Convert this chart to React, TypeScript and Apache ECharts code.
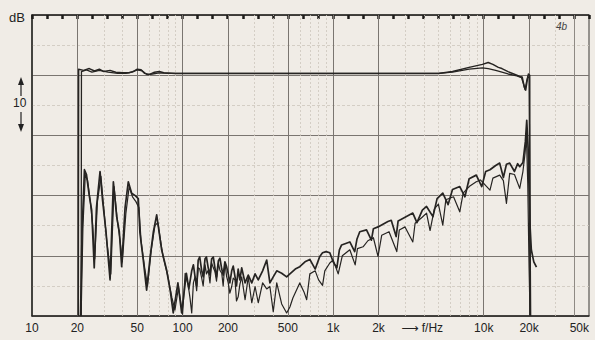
import React, { useEffect, useRef } from "react";
import * as echarts from "echarts";

// ---- Data -----------------------------------------------------------------
// Frequency response, two channels: [frequency Hz, level dB]
const responseA: [number, number][] = [
  [20.3, 0], [20.4, 41.0], [22, 40.8], [24, 41.1], [26, 40.7], [28, 41.0], [30, 40.6],
  [33, 40.8], [36, 40.5], [40, 40.4], [44, 40.4], [47, 40.6], [50, 41.0], [53, 40.9],
  [56, 40.3], [60, 40.1], [65, 40.5], [70, 40.6], [75, 40.4], [90, 40.3], [200, 40.3],
  [1000, 40.3], [3000, 40.3], [5000, 40.3], [6200, 40.6], [8000, 41.3], [9800, 41.8],
  [10700, 42.1], [11500, 41.8], [12500, 41.3], [13200, 41.1], [14500, 40.6], [16600, 40.0],
  [17300, 39.8], [18000, 39.7], [18600, 38.0], [19000, 37.5], [19400, 39.0], [19800, 40.2],
  [20200, 40.0], [20300, 0],
];
const responseB: [number, number][] = [
  [21.2, 0], [21.3, 40.6], [23, 40.9], [25, 40.5], [28, 40.8], [32, 40.5], [37, 40.3],
  [42, 40.3], [46, 40.5], [50, 40.9], [54, 40.7], [58, 40.1], [63, 40.2], [70, 40.4],
  [80, 40.3], [200, 40.3], [1000, 40.3], [5000, 40.3], [6200, 40.5], [8000, 41.0],
  [9800, 41.2], [10700, 41.1], [12000, 40.8], [13200, 40.5], [14500, 40.2], [16600, 39.9],
  [17800, 39.6], [18400, 38.5], [18800, 37.6], [19200, 38.8], [19600, 39.8], [20000, 39.5],
  [20500, 0],
];
// Noise / distortion traces
const noiseUpper: [number, number][] = [
  [21.0, 0], [21.5, 14], [22.3, 24.3], [23.0, 23.5], [24.0, 20], [24.9, 17.6], [25.9, 8.0],
  [26.8, 18], [28.3, 24.0], [29.4, 19.3], [31, 14], [33.0, 6.0], [34.7, 22.3], [36.5, 16.5],
  [38, 14], [39.4, 8.2], [41.5, 18], [43.6, 22.3], [45.9, 20.4], [48.5, 20.0], [50.8, 19.5],
  [52.1, 13.8], [55, 9], [57.7, 4.3], [61, 10], [64, 14], [67.3, 16.8], [72.6, 11],
  [78.4, 7.6], [83, 4], [86.7, 0.5], [93.1, 5.5], [98.6, 0.5], [106, 7.1], [110, 4.5],
  [115, 7.5], [118, 8.5], [121, 6.5], [124, 5], [127, 9.3], [130, 9.8], [134, 7.5],
  [137, 6.5], [141, 9.5], [144, 9.8], [148, 8], [152, 6.8], [156, 9.5], [160, 9.8],
  [164, 8], [168, 6.5], [173, 9.2], [177, 9.6], [182, 7.8], [186, 6.8], [191, 9.0],
  [196, 8.2], [201, 7], [206, 5.5], [212, 7.5], [217, 8.3], [223, 6.5], [228, 5.0],
  [234, 7.8], [240, 6.0], [247, 8.0], [260, 5.5], [273, 6.8], [288, 5.5], [303, 7.0],
  [318, 6.0], [340, 7.5], [362, 9.3], [380, 5.5], [400, 6.5], [422, 7.5], [455, 7.1],
  [491, 6.5], [516, 7.0], [560, 7.8], [600, 8.2], [650, 9.0], [700, 9.4], [760, 7.8],
  [815, 9.9], [850, 10.5], [897, 10.7], [950, 10.5], [1000, 9.0], [1058, 8.0], [1100, 11.0],
  [1138, 11.8], [1290, 12.3], [1390, 10.7], [1440, 12.8], [1502, 14], [1665, 14.3],
  [1795, 12.6], [1850, 14.5], [1985, 14.8], [2310, 15.7], [2430, 15.9], [2620, 13.2],
  [2700, 15.8], [2900, 16.2], [3380, 17.1], [3600, 15.5], [3910, 17.6], [4170, 18.2],
  [4600, 16.5], [4900, 19.5], [5345, 20.4], [5800, 18.5], [6200, 21], [6930, 21.5],
  [7500, 19.8], [8000, 22.8], [8920, 23.4], [9700, 21.5], [10300, 24], [11000, 24.3],
  [12000, 25.0], [12760, 25.4], [13500, 23.0], [14150, 25.2], [14870, 25.4], [16000, 24.0],
  [16800, 25.3], [17330, 24.8], [18200, 25.5], [18900, 29], [19300, 32.5], [19700, 28],
  [20200, 16], [20700, 11], [21500, 9], [22400, 8.1],
];
const noiseLower: [number, number][] = [
  [21.2, 0], [21.8, 15], [22.6, 23.5], [23.4, 22.5], [24.4, 19], [25.3, 15], [26.1, 9.5],
  [27.2, 19], [28.7, 23.2], [29.8, 18.5], [31.5, 12], [33.4, 7.0], [35.1, 21.5], [37, 15.5],
  [38.5, 12.5], [39.8, 9.0], [42, 17], [44.2, 21.5], [46.5, 19.8], [49, 19.0], [51.3, 18.0],
  [53, 12.5], [56, 8], [58.5, 5.0], [62, 11], [65.5, 15], [68.5, 15.5], [74, 10],
  [80, 6.5], [85, 3], [89, 1.0], [94, 4.8], [100, 0.3], [104, 7.1], [109, 5.1], [112, 3],
  [115, 0.5], [118, 5.5], [121, 6.5], [124, 4.2], [127, 8.0], [130, 7.8], [134, 6.3],
  [137, 5.0], [141, 8.5], [144, 7.0], [148, 7.6], [152, 5.5], [156, 8.8], [160, 8.0],
  [164, 7.4], [168, 5.8], [173, 8.8], [177, 7.6], [182, 7.1], [186, 5.0], [191, 8.8],
  [196, 6.6], [201, 5.5], [206, 3.8], [212, 4.9], [217, 6.3], [223, 6.0], [228, 2.5],
  [234, 3.2], [240, 5.2], [247, 6.5], [260, 2.7], [273, 6.5], [288, 2.2], [303, 4.9],
  [318, 2.2], [340, 5.5], [362, 4.5], [380, 4.9], [400, 0.7], [422, 5.5], [455, 2],
  [491, 0.5], [516, 1.5], [540, 3], [600, 5.5], [640, 4], [667, 2.7], [700, 7.0],
  [760, 7.5], [800, 6.0], [850, 5.1], [880, 7.5], [950, 8.8], [1000, 9.3], [1080, 7.0],
  [1150, 10], [1290, 11], [1400, 8.5], [1450, 11.2], [1580, 11.5], [1700, 12.5], [1850, 13],
  [1985, 9.9], [2100, 13.4], [2350, 14], [2645, 10.7], [2750, 14.3], [3000, 14.8],
  [3380, 12.3], [3500, 15.4], [3900, 16.4], [4170, 17.1], [4400, 14.2], [4700, 17.8],
  [5000, 18.6], [5345, 15.1], [5600, 19.3], [6300, 19.8], [6930, 17.3], [7300, 20.4],
  [8000, 21.5], [8920, 22.3], [9500, 22.6], [11000, 20.9], [11500, 22.9], [12760, 23.4],
  [13500, 22.5], [14150, 18.7], [14870, 23.7], [16000, 23.5], [17330, 21.2], [18200, 24],
  [18800, 27], [19200, 30], [19600, 22], [20000, 8], [20300, 0],
];

// Axis / grid definitions
const freqLabelValues = [10, 20, 50, 100, 200, 500, 1000, 2000, 3900, 10000, 20000, 50000];
const freqLabelTexts = ["10", "20", "50", "100", "200", "500", "1k", "2k", "\u27F6 f/Hz", "10k", "20k", "50k"];
const majorFreqLines = [20, 50, 100, 200, 500, 1000, 2000, 10000, 20000];
const mediumFreqLines = [40000];
const minorFreqLines = [
  30, 40, 60, 70, 80, 90, 300, 400, 600, 700, 800, 900, 3000, 4000, 5000, 6000, 7000,
  8000, 9000, 30000,
];
const fMin = 10;
const fMax = 50000;
const dbMin = 0;
const dbMax = 50;
const dbStep = 10;
const topTickCount = 37;

const PAPER = "#f0ece6";
const INK = "#262422";

export default function App() {
  const ref = useRef<HTMLDivElement>(null);

  useEffect(() => {
    if (!ref.current) return;
    const chart = echarts.init(ref.current, undefined, { renderer: "svg" });
    const font = "Liberation Sans, DejaVu Sans, sans-serif";
    const logMin = Math.log10(fMin);
    const logMax = Math.log10(fMax);

    const markLineData = [
      ...minorFreqLines.map((f) => ({
        xAxis: f,
        lineStyle: { color: "#cdc6bd", width: 0.8, type: [2, 2] as any },
      })),
      ...mediumFreqLines.map((f) => ({
        xAxis: f,
        lineStyle: { color: "#8f8a84", width: 1, type: "solid" as any },
      })),
      ...majorFreqLines.map((f) => ({
        xAxis: f,
        lineStyle: { color: "#7a7570", width: 1, type: "solid" as any },
      })),
    ];

    const curve = (name: string, data: [number, number][], width: number) => ({
      name,
      type: "line",
      data,
      showSymbol: false,
      symbol: "none",
      xAxisIndex: 0,
      yAxisIndex: 0,
      z: 5,
      lineStyle: { color: INK, width, join: "round" },
    });

    chart.setOption({
      animation: false,
      backgroundColor: PAPER,
      grid: {
        left: 32,
        right: 6,
        top: 15,
        bottom: 24,
        show: true,
        borderColor: "#3a3835",
        borderWidth: 1,
      },
      xAxis: [
        {
          type: "log",
          logBase: 10,
          min: fMin,
          max: fMax,
          position: "bottom",
          axisLine: { show: true, lineStyle: { color: "#2a2826", width: 1.5 } },
          axisTick: { show: false },
          axisLabel: { show: false },
          splitLine: { show: false },
          minorSplitLine: { show: false },
        },
        {
          type: "value",
          min: logMin,
          max: logMax,
          position: "bottom",
          axisLine: { show: false },
          axisTick: { show: false },
          splitLine: { show: false },
          axisLabel: {
            show: true,
            customValues: freqLabelValues.map((f) => Math.log10(f)),
            formatter: (v: number) => {
              let best = 0;
              let bestD = Infinity;
              freqLabelValues.forEach((f, i) => {
                const d = Math.abs(Math.log10(f) - v);
                if (d < bestD) {
                  bestD = d;
                  best = i;
                }
              });
              return freqLabelTexts[best];
            },
            color: "#222",
            fontFamily: font,
            fontSize: 12,
            margin: 6,
            alignMaxLabel: "right",
          },
        },
        {
          type: "value",
          min: 0,
          max: topTickCount,
          interval: 1,
          position: "top",
          axisLine: { show: true, lineStyle: { color: "#2a2826", width: 1.5 } },
          axisTick: { show: true, inside: true, length: 4, lineStyle: { color: "#1e1c1a", width: 2.5 } },
          axisLabel: { show: false },
          splitLine: { show: false },
        },
      ],
      yAxis: [
        {
          type: "value",
          min: dbMin,
          max: dbMax,
          interval: dbStep,
          axisLine: { show: true, lineStyle: { color: "#2a2826", width: 1.5 } },
          axisTick: { show: false },
          axisLabel: { show: false },
          splitLine: { show: true, lineStyle: { color: "#7a7570", width: 1 } },
          minorTick: { show: false, splitNumber: 2 },
          minorSplitLine: { show: true, lineStyle: { color: "#cdc6bd", width: 0.8, type: [3, 2] } },
        },
      ],
      graphic: [
        { type: "text", left: 9, top: 11, style: { text: "dB", font: `13px ${font}`, fill: "#222" } },
        { type: "line", shape: { x1: 21, y1: 82, x2: 21, y2: 96 }, style: { stroke: "#222", lineWidth: 1.2 } },
        { type: "polygon", shape: { points: [[18, 85], [21, 77], [24, 85]] }, style: { fill: "#222" } },
        { type: "text", left: 13, top: 97, style: { text: "10", font: `12px ${font}`, fill: "#222" } },
        { type: "line", shape: { x1: 21, y1: 112, x2: 21, y2: 127 }, style: { stroke: "#222", lineWidth: 1.2 } },
        { type: "polygon", shape: { points: [[18, 124], [21, 132], [24, 124]] }, style: { fill: "#222" } },
        { type: "text", left: 556, top: 21, style: { text: "4b", font: `italic 10px ${font}`, fill: "#444" } },
      ],
      series: [
        {
          name: "grid",
          type: "line",
          data: [],
          xAxisIndex: 0,
          yAxisIndex: 0,
          z: 1,
          silent: true,
          markLine: {
            silent: true,
            symbol: ["none", "none"],
            label: { show: false },
            emphasis: { disabled: true },
            data: markLineData,
          },
        },
        curve("Frequenzgang L", responseA, 1.5),
        curve("Frequenzgang R", responseB, 1.3),
        curve("Klirr 1", noiseUpper, 1.7),
        curve("Klirr 2", noiseLower, 1.2),
      ],
    });

    return () => chart.dispose();
  }, []);

  return (
    <div
      ref={ref}
      style={{ position: "absolute", left: 0, top: 0, width: 595, height: 340, background: PAPER }}
    />
  );
}
